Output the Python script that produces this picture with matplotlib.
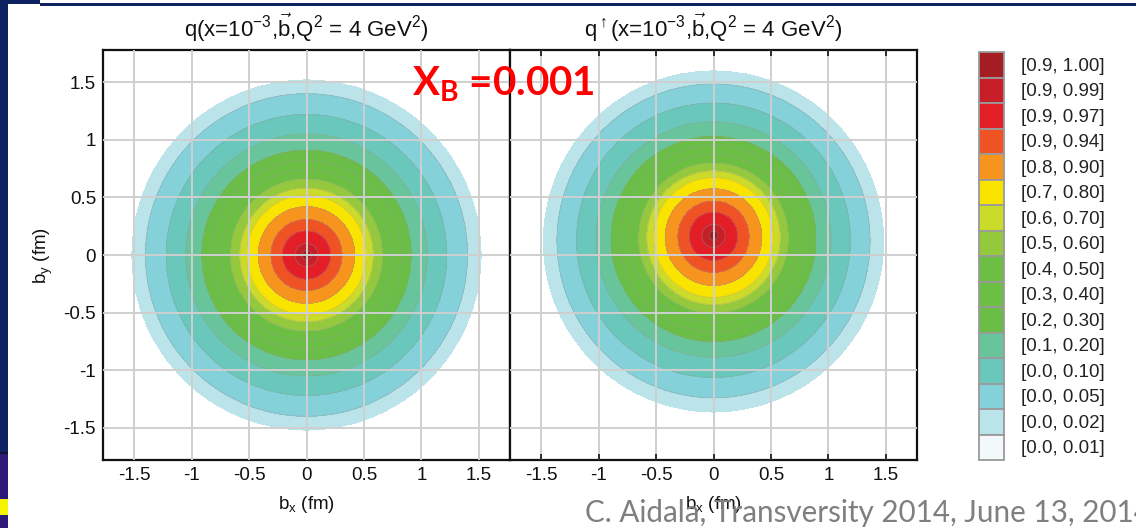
import numpy as np
import matplotlib
matplotlib.use("Agg")
import matplotlib.pyplot as plt
from matplotlib.patches import Rectangle, Patch

plt.rcParams['font.family'] = ['Liberation Sans', 'DejaVu Sans']
plt.rcParams['mathtext.fontset'] = 'custom'
plt.rcParams['mathtext.rm'] = 'Liberation Sans'
plt.rcParams['mathtext.it'] = 'Liberation Sans:italic'
plt.rcParams['mathtext.bf'] = 'Liberation Sans:bold'

# ---- data -------------------------------------------------------------
# contour levels (normalised density) and their band colours (low -> high)
levels = [0.0, 0.01, 0.02, 0.05, 0.10, 0.20, 0.30, 0.40, 0.50, 0.60, 0.70,
          0.80, 0.90, 0.94, 0.97, 0.99, 1.0001]
band_colors = ['#f3f9fb', '#bae3ea', '#85d1da', '#69c7bc', '#68c49a', '#6abd46',
               '#6bbf45', '#6dbf44', '#95c93d', '#cbdb2a', '#f9e400', '#f7941d',
               '#ef5323', '#e31e26', '#c81e27', '#a51c22']

# radial profile (radius in fm where density crosses each value)
profile_values = [1.0, 0.99, 0.97, 0.94, 0.90, 0.80, 0.70, 0.60, 0.50, 0.40,
                  0.30, 0.20, 0.10, 0.05, 0.02, 0.0105]
radii_unpol = [0.0, 0.04, 0.10, 0.21, 0.31, 0.42, 0.52, 0.58, 0.66, 0.74,
               0.82, 0.91, 1.05, 1.22, 1.40, 1.52]
radii_pol = [0.0, 0.04, 0.10, 0.21, 0.31, 0.42, 0.52, 0.58, 0.65, 0.73,
             0.81, 0.89, 1.02, 1.19, 1.36, 1.48]
pol_shift_y = 0.17      # shift of the polarised distribution (fm)
pol_asym = 0.035        # up/down asymmetry of the polarised distribution

legend_labels = ['[0.9, 1.00]', '[0.9, 0.99]', '[0.9, 0.97]', '[0.9, 0.94]',
                 '[0.8, 0.90]', '[0.7, 0.80]', '[0.6, 0.70]', '[0.5, 0.60]',
                 '[0.4, 0.50]', '[0.3, 0.40]', '[0.2, 0.30]', '[0.1, 0.20]',
                 '[0.0, 0.10]', '[0.0, 0.05]', '[0.0, 0.02]', '[0.0, 0.01]']

ticks = [-1.5, -1, -0.5, 0, 0.5, 1, 1.5]
tick_labels = ['-1.5', '-1', '-0.5', '0', '0.5', '1', '1.5']

title_left = r'q(x=10$^{\mathregular{-3}}$,$\vec{\mathregular{b}}$,Q$^{\mathregular{2}}$ = 4 GeV$^{\mathregular{2}}$)'
title_right = r'q$^{\uparrow}$(x=10$^{\mathregular{-3}}$,$\vec{\mathregular{b}}$,Q$^{\mathregular{2}}$ = 4 GeV$^{\mathregular{2}}$)'

# ---- figure -----------------------------------------------------------
W, H = 1136, 528
fig = plt.figure(figsize=(W / 100, H / 100), dpi=100)
fig.patch.set_facecolor('white')

def px(x, y, w, h):
    """pixel box (top-left origin) -> figure fraction rect"""
    return [x / W, 1 - (y + h) / H, w / W, h / H]

navy = '#0e2261'
# slide decorations
for (x, y, w, h, c) in [(0, 0, 40, 4, navy), (40, 3, W - 40, 3, navy),
                        (0, 0, 8, 452, navy), (0, 452, 8, 2, '#111133'),
                        (0, 454, 8, 74, '#2d1a78'), (0, 499, 8, 16, '#f4f400')]:
    fig.patches.append(Rectangle((x / W, 1 - (y + h) / H), w / W, h / H,
                                 transform=fig.transFigure, facecolor=c,
                                 edgecolor='none', zorder=0))

g = np.linspace(-1.8, 1.8, 900)
X, Y = np.meshgrid(g, g)

def field_unpol():
    r = np.hypot(X, Y)
    f = np.interp(r, radii_unpol, profile_values)
    return np.where(r <= radii_unpol[-1], f, np.nan)

def field_pol():
    dy = Y - pol_shift_y
    r = np.hypot(X, dy)
    s = np.where(r > 0, dy / np.maximum(r, 1e-9), 0.0)
    rho = r * (1 + pol_asym * s)
    f = np.interp(rho, radii_pol, profile_values)
    return np.where(rho <= radii_pol[-1], f, np.nan)

ax_l = fig.add_axes(px(103, 50, 407, 410))
ax_r = fig.add_axes(px(510, 50, 407, 410))

fs_tick = 13.5
for ax, F, title in [(ax_l, field_unpol(), title_left),
                     (ax_r, field_pol(), title_right)]:
    ax.contourf(X, Y, F, levels=levels, colors=band_colors, zorder=1)
    ax.contour(X, Y, F, levels=levels[2:-1], colors='#9a9a9a',
               linewidths=0.6, alpha=0.45, zorder=1.5)
    ax.set_xlim(-1.77, 1.77)
    ax.set_ylim(-1.78, 1.78)
    ax.set_xticks(ticks)
    ax.set_xticklabels(tick_labels)
    ax.set_yticks(ticks)
    ax.set_yticklabels(tick_labels)
    ax.grid(True, color='#cfcfcf', linewidth=1.4)
    ax.set_axisbelow(False)
    for sp in ax.spines.values():
        sp.set_color('#111111')
        sp.set_linewidth(1.6)
    ax.tick_params(labelsize=fs_tick, colors='#111111', pad=5)
    ax.set_title(title, fontsize=16, color='#111111', pad=9)
    ax.set_xlabel(r'b$_{\mathregular{x}}$ (fm)', fontsize=fs_tick,
                  color='#111111', labelpad=7)

ax_l.tick_params(length=0)
ax_l.set_ylabel(r'b$_{\mathregular{y}}$ (fm)', fontsize=fs_tick,
                color='#111111', labelpad=6)
ax_r.tick_params(axis='x', direction='in', length=4, width=1.2,
                 top=True, bottom=True, color='#111111')
ax_r.tick_params(axis='y', length=0, labelleft=False)

# legend
handles = [Patch(facecolor=c, edgecolor='#9a9a9a', linewidth=1.3)
           for c in band_colors[::-1]]
fs_leg = 13.5
fs_px = fs_leg * 100 / 72
row_px = 25.5
fig.legend(handles, legend_labels, loc='upper left',
           bbox_to_anchor=(979 / W, 1 - 52 / H), frameon=False,
           fontsize=fs_leg, handlelength=25 / fs_px,
           handleheight=(row_px / fs_px - 0.245) / 0.65,
           labelspacing=0, handletextpad=17 / fs_px, borderpad=0,
           borderaxespad=0, labelcolor='#222222')

# annotation
fig.text(412 / W, 1 - 95 / H, r'X$_{\mathregular{B}}$ =0.001', color='#ff0000',
         fontsize=29, fontweight='bold', family='Lato', ha='left',
         va='baseline', zorder=5)

# footer
fig.text(585 / W, 1 - 522 / H, 'C. Aidala, Transversity 2014, June 13, 2014',
         color='#7f7f7f', fontsize=21.3, family='Lato', ha='left',
         va='baseline', zorder=5)

fig.savefig('out.png', dpi=100)
